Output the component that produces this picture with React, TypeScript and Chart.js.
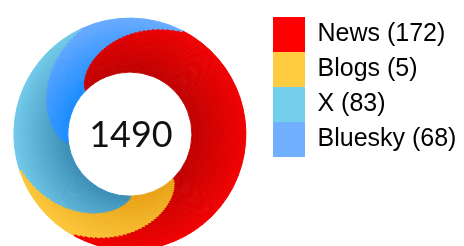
import React, { useEffect, useRef } from "react";
import { Chart, registerables } from "chart.js";

Chart.register(...registerables);

// ---- data ----
const categories = ["News", "Blogs", "X", "Bluesky"];
const mentionCounts = [172, 5, 83, 68];
// share of the swirl's outer rim taken by each source (degrees)
const arcDegrees = [182, 43, 83, 52];
const score = 1490;

// ---- styles ----
const legendColors = ["#FF0000", "#FFCC40", "#74CFEA", "#70B0FF"];
const outerColors = ["#F00000", "#FBC63A", "#70C8E8", "#68AAFF"];
const innerColors = ["#C00000", "#E9A216", "#3A8EB6", "#1A8CFF"];
const RINGS = 40;
const START_ROTATION = 27;
const TWIST = 73;

function hexToRgb(h: string) {
  const n = parseInt(h.slice(1), 16);
  return [(n >> 16) & 255, (n >> 8) & 255, n & 255];
}
function mix(a: string, b: string, t: number) {
  const A = hexToRgb(a);
  const B = hexToRgb(b);
  const c = A.map((v, i) => Math.round(v + (B[i] - v) * t));
  return `rgb(${c[0]},${c[1]},${c[2]})`;
}

const centerText = {
  id: "centerText",
  afterDatasetsDraw(chart: any) {
    const arc = chart.getDatasetMeta(0).data[0];
    if (!arc) return;
    const { ctx } = chart;
    ctx.save();
    ctx.font = "36px Lato";
    ctx.fillStyle = "#111";
    ctx.textAlign = "center";
    ctx.textBaseline = "middle";
    ctx.fillText(String(score), arc.x + 1, arc.y + 1);
    ctx.restore();
  },
};

export default function App() {
  const ref = useRef<HTMLCanvasElement>(null);
  useEffect(() => {
    if (!ref.current) return;
    const datasets = Array.from({ length: RINGS }, (_, i) => {
      const t = i / (RINGS - 1);
      const twist = 1 - Math.pow(1 - t, 1.4);
      const colors = categories.map((_, k) => mix(outerColors[k], innerColors[k], t));
      return {
        data: arcDegrees,
        rotation: START_ROTATION - TWIST * twist,
        backgroundColor: colors,
        borderColor: colors,
        borderWidth: 1,
      };
    });
    const spacer = {
      display: true,
      text: " ",
      fullSize: false,
      font: { size: 1 },
    };
    const chart = new Chart(ref.current, {
      type: "doughnut",
      data: { labels: categories, datasets },
      options: {
        animation: false,
        responsive: true,
        maintainAspectRatio: false,
        radius: 116,
        cutout: "53.5%",
        layout: { padding: { top: 17, bottom: 0, left: 14, right: 7 } },
        plugins: {
          tooltip: { enabled: false },
          title: { ...spacer, position: "top", padding: { top: 2, bottom: 2 } },
          subtitle: { ...spacer, position: "right", weight: 500, padding: { top: 13, bottom: 13 } },
          legend: {
            position: "right",
            align: "start",
            maxWidth: 184,
            onClick: () => {},
            labels: {
              boxWidth: 32,
              boxHeight: 35,
              padding: 0,
              color: "#111",
              font: { family: "'Liberation Sans', Arial, sans-serif", size: 25 },
              generateLabels: () =>
                categories.map((c, i) => ({
                  text: `${c} (${mentionCounts[i]})`,
                  fillStyle: legendColors[i],
                  strokeStyle: legendColors[i],
                  lineWidth: 0,
                  hidden: false,
                  index: i,
                })),
            },
          },
        },
      } as any,
      plugins: [centerText],
    });
    return () => chart.destroy();
  }, []);
  return (
    <div style={{ position: "fixed", left: 0, top: 0, width: 464, height: 246, background: "#fff" }}>
      <canvas ref={ref} />
    </div>
  );
}
